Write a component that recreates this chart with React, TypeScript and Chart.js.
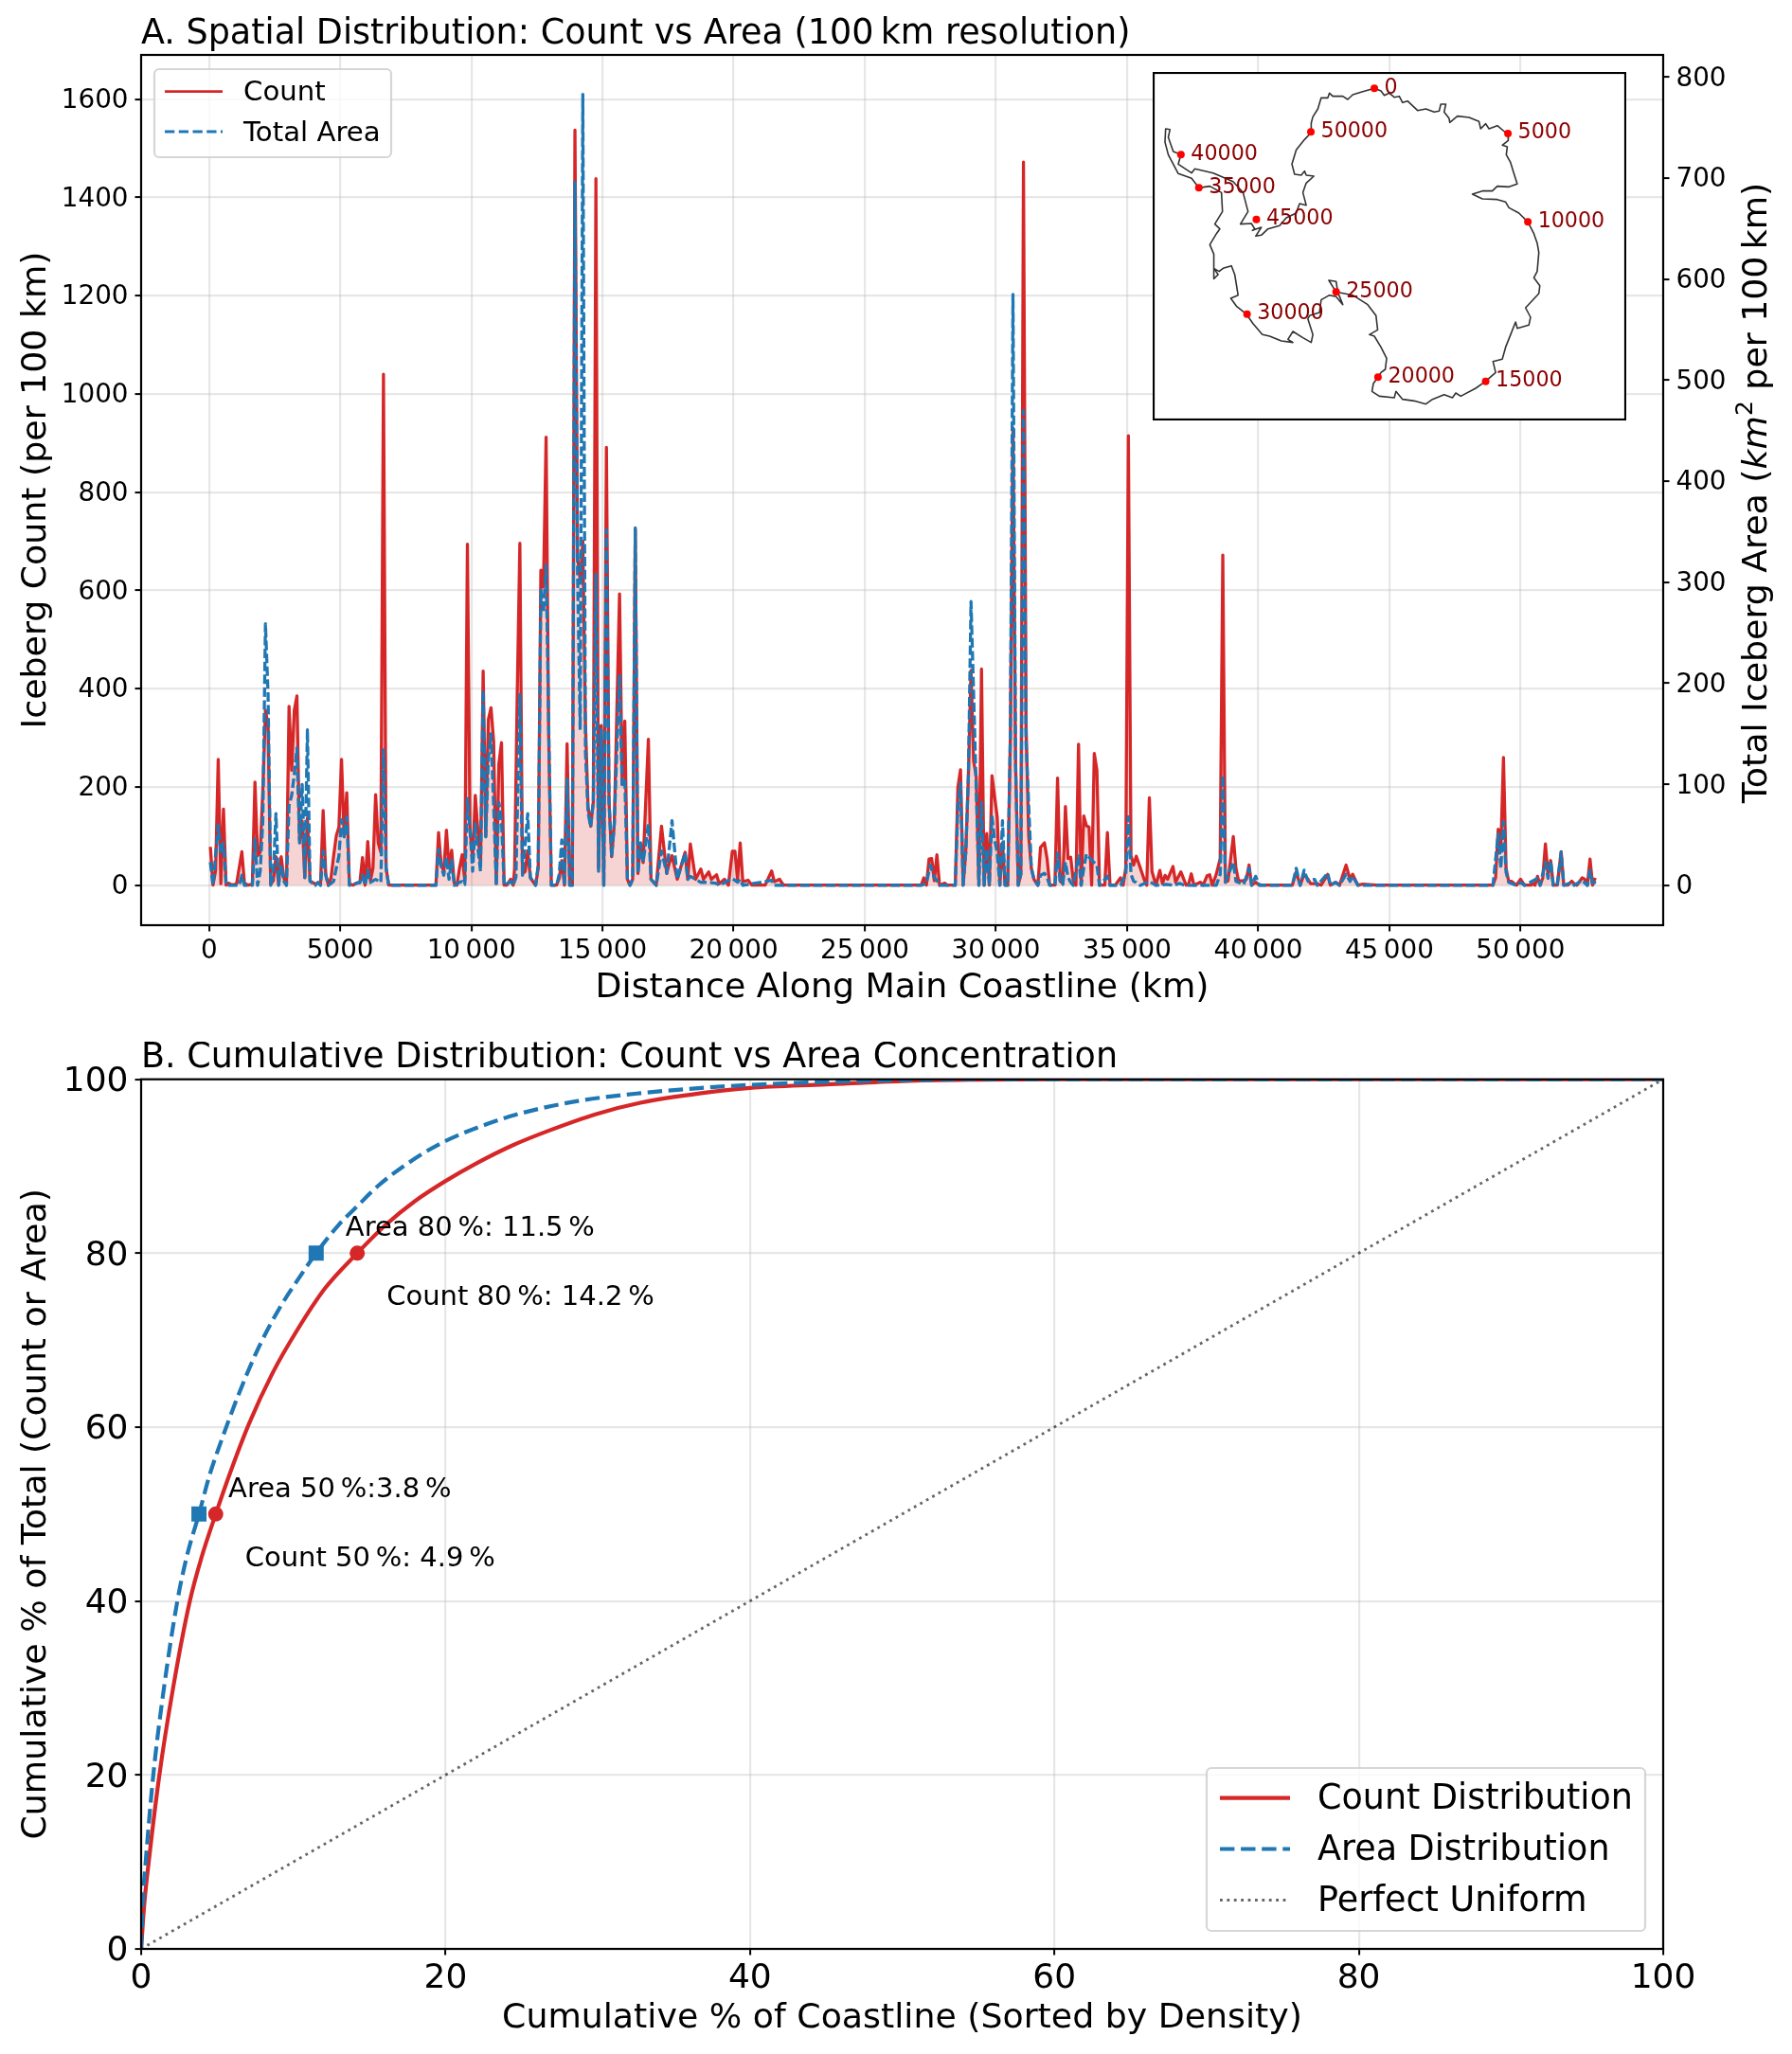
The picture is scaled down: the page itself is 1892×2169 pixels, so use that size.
import React, { useEffect, useRef } from "react";
import { Chart, registerables } from "chart.js";

Chart.register(...registerables);

const FONT = "'DejaVu Sans'";
const RED = "#d62728";
const BLUE = "#1f77b4";
const GRID = "rgba(176,176,176,0.3)";
const THIN = "\u2009";

// Panel A: [distance along coastline km, iceberg count per 100 km]
const countSeries = [
  [50,78],[150,0],[250,30],[350,256],[450,3],[550,155],[650,0],[750,4],[850,1],[950,1],[1050,3],[1250,68],[1350,4],[1500,0],[1650,2],[1750,210],[1850,60],[1950,67],[2050,195],[2150,356],[2250,325],[2350,2],[2450,9],[2550,58],[2650,2],[2750,58],[2850,15],[2950,0],[3050,364],[3150,234],[3250,356],[3350,385],[3450,92],[3550,131],[3650,15],[3750,137],[3850,9],[4050,2],[4150,5],[4250,2],[4350,152],[4450,22],[4550,0],[4650,15],[4750,60],[4850,100],[4950,118],[5050,256],[5150,99],[5250,188],[5350,2],[5500,0],[5650,5],[5750,5],[5850,56],[5950,0],[6050,89],[6150,9],[6250,35],[6350,184],[6450,86],[6550,67],[6650,1040],[6750,35],[6850,0],
  [8650,0],[8750,107],[8850,41],[8950,28],[9050,112],[9150,35],[9250,71],[9350,3],[9450,0],[9550,35],[9650,62],[9750,9],[9850,694],[9950,112],[10050,54],[10150,183],[10250,110],[10350,40],[10450,436],[10550,100],[10650,337],[10750,361],[10850,292],[10950,3],[11050,247],[11150,290],[11250,0],[11350,0],[11500,12],[11600,0],[11650,35],[11750,390],[11850,696],[11950,23],[12050,28],[12150,70],[12250,15],[12450,0],[12550,35],[12650,641],[12750,607],[12850,912],[12950,300],[13050,0],[13250,0],[13350,14],[13450,50],[13550,0],[13650,288],[13750,0],[13850,0],[13950,1537],[14050,668],[14150,620],[14250,700],[14350,330],[14450,160],[14550,120],[14650,170],[14750,1438],[14850,35],[14950,325],[15050,0],[15150,891],[15250,170],[15350,58],[15450,125],[15650,593],[15750,205],[15850,334],[15950,12],[16050,0],[16150,12],[16250,724],[16350,24],[16450,86],[16550,46],[16750,297],[16850,12],[17050,0],[17250,120],[17450,24],[17550,46],[17650,60],[17850,12],[18150,67],[18250,12],[18350,84],[18550,12],[18750,33],[18850,12],[19050,27],[19150,12],[19350,21],[19450,3],[19650,12],[19800,0],[19950,69],[20050,69],[20150,12],[20250,86],[20350,7],[20550,10],[20700,0],[21200,0],[21450,29],[21550,7],[21750,12],[21900,0],
  [27150,0],[27250,15],[27350,0],[27450,53],[27550,54],[27650,9],[27750,62],[27850,0],[28050,4],[28150,0],[28450,0],[28550,199],[28650,235],[28750,0],[28850,67],[28950,221],[29050,437],[29150,253],[29250,221],[29350,0],[29450,440],[29550,0],[29650,105],[29750,0],[29850,223],[30050,138],[30150,0],[30250,86],[30350,0],[30450,0],[30550,300],[30650,930],[30750,250],[30850,0],[30950,22],[31050,1472],[31150,325],[31250,100],[31350,35],[31450,12],[31600,0],[31700,77],[31850,86],[31950,54],[32050,0],[32250,0],[32350,218],[32450,9],[32550,3],[32650,160],[32750,54],[32850,57],[32950,9],[33050,0],[33150,287],[33250,0],[33350,141],[33450,121],[33550,118],[33650,0],[33750,268],[33850,234],[33950,0],[34150,0],[34250,107],[34350,0],[34550,0],[34750,15],[34850,0],[34950,35],[35050,915],[35150,60],[35250,41],[35350,59],[35550,28],[35650,12],[35750,0],[35850,178],[35950,28],[36100,0],[36250,30],[36350,3],[36450,20],[36550,12],[36750,38],[36850,6],[37050,27],[37250,0],[37350,3],[37450,23],[37550,0],[37800,6],[37900,0],[38050,19],[38150,21],[38250,0],[38400,22],[38550,54],[38650,672],[38750,6],[38850,9],[39050,99],[39150,35],[39250,9],[39450,9],[39550,12],[39650,41],[39750,0],[39900,6],[40050,0],
  [41300,0],[41350,9],[41450,27],[41600,0],[41750,22],[41900,12],[42000,3],[42250,3],[42400,0],[42650,22],[42750,0],[42950,6],[43100,0],[43350,41],[43500,12],[43600,22],[43800,0],[44000,2],[44500,0],[48950,0],[49050,15],[49150,114],[49250,73],[49350,260],[49450,34],[49550,8],[49650,8],[49850,0],[50000,12],[50150,0],[50400,0],[50500,3],[50550,0],[50650,18],[50750,0],[50850,15],[50950,84],[51050,21],[51150,50],[51250,0],[51400,0],[51550,68],[51650,0],[51800,0],[51950,8],[52050,3],[52150,0],[52350,15],[52450,12],[52550,0],[52650,53],[52750,0],[52850,15],
];

// Panel A: [distance along coastline km, total iceberg area km2 per 100 km]
const areaSeries = [
  [50,23],[150,0],[350,60],[450,32],[550,42],[650,0],[1150,0],[1250,10],[1350,0],[1650,0],[1750,46],[1850,0],[1950,14],[2050,64],[2150,259],[2250,189],[2350,0],[2450,11],[2550,71],[2650,0],[2750,20],[2850,4],[2950,0],[3050,79],[3150,89],[3250,110],[3350,136],[3450,42],[3550,100],[3650,8],[3750,154],[3850,4],[4050,0],[4150,3],[4250,0],[4350,34],[4450,10],[4550,0],[4750,4],[4850,17],[4950,29],[5050,65],[5150,48],[5250,68],[5350,0],[5750,3],[5850,10],[5950,0],[6050,15],[6150,3],[6350,6],[6550,3],[6650,134],[6750,17],[6850,0],
  [8650,0],[8750,36],[8850,18],[8950,10],[9050,28],[9150,6],[9250,25],[9350,0],[9550,3],[9650,4],[9750,1],[9850,86],[9950,54],[10050,14],[10150,61],[10250,36],[10350,14],[10450,193],[10550,48],[10650,126],[10750,150],[10850,79],[10950,0],[11050,82],[11150,64],[11250,0],[11500,4],[11600,0],[11700,8],[11850,189],[11950,10],[12150,71],[12250,8],[12450,0],[12550,20],[12650,292],[12750,270],[12850,317],[13050,0],[13250,0],[13350,11],[13450,45],[13550,0],[13650,105],[13750,0],[13850,0],[13950,696],[14050,308],[14150,154],[14250,783],[14350,132],[14450,72],[14550,58],[14650,83],[14750,308],[14850,14],[14950,154],[15050,0],[15150,352],[15250,83],[15350,28],[15450,61],[15650,209],[15750,100],[15850,105],[15950,6],[16050,0],[16150,6],[16250,354],[16350,12],[16450,42],[16550,23],[16750,61],[16850,6],[17050,0],[17250,34],[17450,12],[17650,64],[17850,6],[18150,32],[18250,6],[18350,9],[18550,6],[18750,3],[19050,3],[19350,2],[19450,0],[19950,7],[20150,3],[20250,6],[20350,0],[21450,5],[21550,0],
  [27150,0],[27350,2],[27500,20],[27650,8],[27750,5],[27850,0],[28450,0],[28550,79],[28650,101],[28750,0],[28850,32],[28950,108],[29050,281],[29150,189],[29250,95],[29350,0],[29450,82],[29550,0],[29650,36],[29750,0],[29850,68],[29950,45],[30050,32],[30150,0],[30250,64],[30350,0],[30450,0],[30550,150],[30650,585],[30750,120],[30850,0],[30950,11],[31050,470],[31150,142],[31350,17],[31450,6],[31600,0],[31700,10],[31850,12],[31950,8],[32050,0],[32250,0],[32350,32],[32450,4],[32550,1],[32650,23],[32750,8],[32850,3],[32950,0],[33150,29],[33250,0],[33350,17],[33450,31],[33650,25],[33850,20],[33950,0],[34250,9],[34350,0],[34750,0],[34950,11],[35050,68],[35150,11],[35250,4],[35350,3],[35500,0],[35850,4],[36100,0],[36500,1],[36800,0],[37000,2],[37200,0],[38400,0],[38550,11],[38650,109],[38750,3],[39050,23],[39150,4],[39450,1],[39650,17],[39750,0],[39900,9],[40050,0],
  [41300,0],[41450,17],[41600,0],[41750,15],[41900,4],[42150,6],[42250,0],[42650,12],[42750,0],[42950,3],[43100,0],[43350,11],[43500,4],[43600,9],[43800,0],[48950,0],[49150,51],[49250,17],[49350,63],[49450,13],[49550,3],[49850,0],[50000,3],[50150,0],[50650,7],[50750,0],[50950,23],[51050,7],[51150,24],[51250,0],[51400,0],[51550,33],[51650,0],[51950,3],[52050,0],[52350,5],[52550,0],[52650,15],[52750,0],[52850,4],
];

const xTicksA = [0,5000,10000,15000,20000,25000,30000,35000,40000,45000,50000];
const xTickLabelsA = ["0","5000",`10${THIN}000`,`15${THIN}000`,`20${THIN}000`,`25${THIN}000`,`30${THIN}000`,`35${THIN}000`,`40${THIN}000`,`45${THIN}000`,`50${THIN}000`];
const yTicksCount = [0,200,400,600,800,1000,1200,1400,1600];
const yTicksArea = [0,100,200,300,400,500,600,700,800];

// Panel B: [cumulative % coastline, cumulative % total]
const countCumulative = [[0,0],[0.2,5],[0.5,10],[1.2,20],[2.1,30],[3.2,40],[4,45.2],[4.9,50],[5.9,55],[7.09,60.4],[8.63,66.2],[10.2,71],[12.1,76],[14.2,80],[16.1,83.3],[18,86],[20,88.3],[22.1,90.4],[24.4,92.4],[26.8,94.1],[29.9,96],[32.8,97.3],[36.8,98.4],[40,99],[45,99.4],[50,99.8],[55,99.95],[60,100],[100,100]];
const areaCumulative = [[0,0],[0.1,5],[0.3,10],[0.8,20],[1.5,30],[2.38,40],[3.04,45.4],[3.8,50],[4.5,54.5],[5.18,58],[6.37,63.6],[7.68,69],[9,73.4],[10.2,76.7],[11.5,80],[13,83.3],[14.2,85.4],[15.6,87.8],[18,90.9],[20,92.9],[22.8,94.9],[25.2,96.2],[28.7,97.5],[32.8,98.4],[36.8,99],[40,99.35],[45,99.7],[50,99.9],[55,100],[100,100]];
const uniformLine = [[0,0],[100,100]];
const countThresholds = [[4.9,50],[14.2,80]];
const areaThresholds = [[3.8,50],[11.5,80]];
const countThresholdLabels = [`Count 50${THIN}%: 4.9${THIN}%`,`Count 80${THIN}%: 14.2${THIN}%`];
const areaThresholdLabels = [`Area 50${THIN}%:3.8${THIN}%`,`Area 80${THIN}%: 11.5${THIN}%`];
const ticksB = [0,20,40,60,80,100];

// Inset: coastline outline in map units
const coastline = [
  [715,100],[735,108],[745,122],[760,115],[775,128],[790,125],[800,145],[815,140],[830,155],[845,170],[870,165],[895,175],[910,172],[915,150],[930,150],[925,175],[940,195],[942,208],[965,188],[1000,192],[1030,205],[1035,228],[1050,212],[1060,228],[1085,218],[1110,240],[1117,243],[1118,265],[1100,280],[1115,285],[1112,310],[1125,335],[1135,370],[1145,403],[1120,412],[1085,410],[1070,425],[1040,425],[1010,435],[1040,450],[1085,452],[1110,460],[1120,478],[1150,495],[1177,523],[1195,560],[1205,590],[1210,620],[1205,680],[1195,700],[1213,725],[1210,750],[1170,795],[1185,825],[1180,850],[1145,860],[1140,840],[1125,880],[1110,920],[1100,958],[1072,965],[1080,1000],[1050,1028],[1020,1050],[975,1075],[960,1065],[950,1080],[925,1070],[890,1085],[870,1100],[835,1090],[800,1085],[780,1060],[775,1080],[730,1075],[708,1060],[712,1035],[726,1015],[735,1000],[748,990],[752,955],[735,920],[715,885],[700,880],[725,865],[720,820],[695,785],[650,755],[600,745],[578,708],[600,712],[605,745],[620,785],[600,760],[580,755],[555,770],[550,810],[520,820],[515,830],[530,880],[525,905],[500,890],[470,870],[455,895],[470,905],[435,900],[400,885],[378,880],[350,845],[330,815],[300,790],[283,765],[305,755],[295,690],[285,662],[260,670],[248,680],[232,670],[245,690],[232,703],[232,625],[220,595],[240,560],[250,545],[235,530],[258,490],[255,430],[220,410],[187,415],[165,385],[125,370],[95,310],[85,270],[87,228],[100,230],[95,255],[110,300],[133,310],[125,340],[165,368],[175,355],[230,368],[290,395],[320,430],[335,490],[312,530],[345,528],[355,545],[348,550],[375,540],[358,568],[375,565],[395,545],[430,535],[450,510],[480,495],[490,465],[510,470],[500,430],[510,400],[533,378],[510,375],[505,362],[495,375],[475,372],[467,340],[480,295],[505,262],[525,240],[525,210],[530,190],[545,165],[555,130],[575,130],[580,115],[590,125],[620,125],[635,135],[650,120],[680,110],[715,100],
];
const markerLabels = ["0","5000","10000","15000","20000","25000","30000","35000","40000","45000","50000"];
const markerPositions = [[715,100],[1117,243],[1177,523],[1050,1028],[726,1015],[600,745],[332,815],[187,415],[133,310],[360,515],[524,238]];

const toXY = (list: number[][]) => list.map(([x, y]) => ({ x, y }));
const setTicks = (values: number[]) => (scale: any) => { scale.ticks = values.map((value) => ({ value })); };
const fix = (key: string, size: number) => (scale: any) => { scale[key] = size; };
const plainNumber = (v: number) => String(v);

function drawSpines(ctx: any, area: any) {
  ctx.save();
  ctx.strokeStyle = "#000";
  ctx.lineWidth = 2.2;
  ctx.strokeRect(area.left, area.top, area.right - area.left, area.bottom - area.top);
  ctx.restore();
}

function drawLegend(ctx: any, box: any, fontPx: number, items: any[]) {
  ctx.save();
  ctx.beginPath();
  ctx.roundRect(box.x, box.y, box.w, box.h, 5);
  ctx.fillStyle = "rgba(255,255,255,0.8)";
  ctx.fill();
  ctx.strokeStyle = "rgba(204,204,204,0.8)";
  ctx.lineWidth = 2.2;
  ctx.stroke();
  ctx.font = `${fontPx}px ${FONT}`;
  ctx.textBaseline = "middle";
  ctx.textAlign = "left";
  items.forEach((it) => {
    ctx.beginPath();
    ctx.strokeStyle = it.color;
    ctx.lineWidth = it.width;
    ctx.setLineDash(it.dash || []);
    ctx.moveTo(box.lineX, it.y);
    ctx.lineTo(box.lineX + box.lineLen, it.y);
    ctx.stroke();
    ctx.setLineDash([]);
    ctx.fillStyle = "#000";
    ctx.fillText(it.label, box.textX, it.y + 2);
  });
  ctx.restore();
}

const panelAOverlay = {
  id: "panelAOverlay",
  afterDatasetsDraw(chart: any) {
    const { ctx, chartArea } = chart;
    drawSpines(ctx, chartArea);
    ctx.save();
    ctx.fillStyle = "#000";
    ctx.font = `36.5px ${FONT}`;
    ctx.textBaseline = "alphabetic";
    ctx.textAlign = "left";
    ctx.fillText(`A. Spatial Distribution: Count vs Area (100${THIN}km resolution)`, chartArea.left, 46);
    ctx.restore();

    // right-hand axis label with mathtext style km^2
    ctx.save();
    ctx.translate(1865, (chartArea.top + chartArea.bottom) / 2 + 3);
    ctx.rotate(-Math.PI / 2);
    ctx.fillStyle = "#000";
    ctx.textBaseline = "alphabetic";
    ctx.textAlign = "left";
    const parts = [
      { t: "Total Iceberg Area (", f: `36.3px ${FONT}`, dy: 0 },
      { t: "km", f: `italic 36.3px ${FONT}`, dy: 0 },
      { t: "2", f: `25px ${FONT}`, dy: -15 },
      { t: ` per 100${THIN}km)`, f: `36.3px ${FONT}`, dy: 0 },
    ];
    let total = 0;
    parts.forEach((p) => { ctx.font = p.f; total += ctx.measureText(p.t).width; });
    let x = -total / 2;
    parts.forEach((p) => {
      ctx.font = p.f;
      ctx.fillText(p.t, x, p.dy);
      x += ctx.measureText(p.t).width;
    });
    ctx.restore();

    drawLegend(ctx, { x: 163, y: 73, w: 250, h: 93, lineX: 174, lineLen: 61, textX: 257 }, 29.2, [
      { label: chart.data.datasets[0].label, color: RED, width: 2.8, y: 96.7 },
      { label: chart.data.datasets[1].label, color: BLUE, width: 2.8, dash: [10.3, 4.45], y: 139 },
    ]);
  },
};

const panelBOverlay = {
  id: "panelBOverlay",
  afterDatasetsDraw(chart: any) {
    const { ctx, chartArea, scales } = chart;
    drawSpines(ctx, chartArea);
    ctx.save();
    ctx.fillStyle = "#000";
    ctx.textBaseline = "alphabetic";
    ctx.textAlign = "left";
    ctx.font = `36.5px ${FONT}`;
    ctx.fillText("B. Cumulative Distribution: Count vs Area Concentration", chartArea.left, 27);
    ctx.font = `29px ${FONT}`;
    areaThresholds.forEach(([x, y], i) => {
      ctx.fillText(areaThresholdLabels[i], scales.x.getPixelForValue(x) + 31, scales.y.getPixelForValue(y) - 18);
    });
    countThresholds.forEach(([x, y], i) => {
      ctx.fillText(countThresholdLabels[i], scales.x.getPixelForValue(x) + 31, scales.y.getPixelForValue(y) + 55);
    });
    ctx.restore();
    drawLegend(ctx, { x: 1274, y: 767, w: 463, h: 172, lineX: 1288, lineLen: 74, textX: 1391 }, 36.5, [
      { label: "Count Distribution", color: RED, width: 4.2, y: 798.6 },
      { label: "Area Distribution", color: BLUE, width: 4.2, dash: [15.4, 6.7], y: 852.5 },
      { label: "Perfect Uniform", color: "rgba(0,0,0,0.6)", width: 2.8, dash: [2.8, 4.6], y: 906.5 },
    ]);
  },
};

const insetOverlay = {
  id: "insetOverlay",
  beforeDatasetsDraw(chart: any) {
    const { ctx, width, height } = chart;
    ctx.save();
    ctx.fillStyle = "#fff";
    ctx.fillRect(0, 0, width, height);
    ctx.restore();
  },
  afterDatasetsDraw(chart: any) {
    const { ctx, scales, width, height } = chart;
    ctx.save();
    ctx.fillStyle = "#8b0000";
    ctx.font = `22.2px ${FONT}`;
    ctx.textBaseline = "middle";
    ctx.textAlign = "left";
    markerPositions.forEach(([x, y], i) => {
      ctx.fillText(markerLabels[i], scales.x.getPixelForValue(x) + 10.5, scales.y.getPixelForValue(y) - 0.5);
    });
    ctx.strokeStyle = "#000";
    ctx.lineWidth = 2.2;
    ctx.strokeRect(1, 1, width - 2, height - 2);
    ctx.restore();
  },
};

const tickFont = (size: number) => ({ family: FONT, size, lineHeight: 1 });

function axisBase(fontSize: number, labelOffset: number) {
  return {
    border: { display: false },
    grid: { color: GRID, lineWidth: 2.2, tickColor: "#000", tickLength: 6.5, tickWidth: 2 },
    ticks: { font: tickFont(fontSize), color: "#000", padding: 7, autoSkip: false, maxRotation: 0, minRotation: 0, labelOffset },
  };
}

export default function App() {
  const refA = useRef<HTMLCanvasElement>(null);
  const refB = useRef<HTMLCanvasElement>(null);
  const refC = useRef<HTMLCanvasElement>(null);

  useEffect(() => {
    const common = { responsive: false, animation: false, devicePixelRatio: 1 };
    const a = new Chart(refA.current as any, {
      type: "line",
      plugins: [panelAOverlay],
      data: {
        datasets: [
          { label: "Count", data: toXY(countSeries), borderColor: RED, borderWidth: 3.3, borderJoinStyle: "round", backgroundColor: "rgba(214,39,40,0.2)", fill: "origin", pointRadius: 0, tension: 0, yAxisID: "y", order: 2 },
          { label: "Total Area", data: toXY(areaSeries), borderColor: BLUE, borderWidth: 3.3, borderJoinStyle: "round", borderDash: [10, 3.6], fill: false, pointRadius: 0, tension: 0, yAxisID: "y1", order: 1 },
        ],
      },
      options: {
        ...common,
        layout: { autoPadding: false, padding: { top: 58, left: 0, right: 0, bottom: 0 } },
        plugins: { legend: { display: false }, tooltip: { enabled: false }, title: { display: false } },
        scales: {
          x: {
            type: "linear", min: -2590, max: 55440, ...axisBase(27.8, 0),
            afterBuildTicks: setTicks(xTicksA),
            afterFit: fix("height", 123),
            ticks: { ...axisBase(27.8, 0).ticks, callback: (v: number) => xTickLabelsA[xTicksA.indexOf(v)] ?? "" },
            title: { display: true, text: "Distance Along Main Coastline (km)", color: "#000", font: tickFont(36.3), padding: { top: 0, bottom: 38.5 } },
          },
          y: {
            type: "linear", position: "left", min: -81.5, max: 1690, ...axisBase(27.8, 2),
            ticks: { ...axisBase(27.8, 2).ticks, callback: plainNumber },
            afterBuildTicks: setTicks(yTicksCount),
            afterFit: fix("width", 149),
            title: { display: true, text: "Iceberg Count (per 100 km)", color: "#000", font: tickFont(36.3), padding: { top: 20.3, bottom: 20.3 } },
          },
          y1: {
            type: "linear", position: "right", min: -39.4, max: 822, ...axisBase(27.8, 2),
            ticks: { ...axisBase(27.8, 2).ticks, callback: plainNumber },
            grid: { ...axisBase(27.8, 2).grid, drawOnChartArea: false },
            afterBuildTicks: setTicks(yTicksArea),
            afterFit: fix("width", 136),
          },
        },
      },
    } as any);

    const b = new Chart(refB.current as any, {
      type: "line",
      plugins: [panelBOverlay],
      data: {
        datasets: [
          { label: "Count 50/80 %", data: toXY(countThresholds), showLine: false, pointStyle: "circle", pointRadius: 8, backgroundColor: RED, borderColor: RED, borderWidth: 0, order: 1 },
          { label: "Area 50/80 %", data: toXY(areaThresholds), showLine: false, pointStyle: "rect", pointRadius: 11.3, backgroundColor: BLUE, borderColor: BLUE, borderWidth: 0, order: 1 },
          { label: "Count Distribution", data: toXY(countCumulative), borderColor: RED, borderWidth: 4.2, pointRadius: 0, cubicInterpolationMode: "monotone", fill: false, order: 3 },
          { label: "Area Distribution", data: toXY(areaCumulative), borderColor: BLUE, borderWidth: 4.2, borderDash: [15.4, 6.7], pointRadius: 0, cubicInterpolationMode: "monotone", fill: false, order: 2 },
          { label: "Perfect Uniform", data: toXY(uniformLine), borderColor: "rgba(0,0,0,0.6)", borderWidth: 2.8, borderDash: [2.8, 4.6], pointRadius: 0, tension: 0, fill: false, order: 4 },
        ],
      },
      options: {
        ...common,
        layout: { autoPadding: false, padding: { top: 39.7, left: 0, right: 0, bottom: 0 } },
        plugins: { legend: { display: false }, tooltip: { enabled: false }, title: { display: false } },
        scales: {
          x: {
            type: "linear", min: 0, max: 100, ...axisBase(36, 0),
            afterBuildTicks: setTicks(ticksB),
            afterFit: fix("height", 111),
            title: { display: true, text: "Cumulative % of Coastline (Sorted by Density)", color: "#000", font: tickFont(36.3), padding: { top: 0, bottom: 19 } },
          },
          y: {
            type: "linear", min: 0, max: 100, ...axisBase(36, 3),
            afterBuildTicks: setTicks(ticksB),
            afterFit: fix("width", 149),
            title: { display: true, text: "Cumulative % of Total (Count or Area)", color: "#000", font: tickFont(36.3), padding: { top: 20.3, bottom: 20.3 } },
          },
          yRight: {
            type: "linear", position: "right", display: true, min: 0, max: 100,
            border: { display: false },
            grid: { display: false },
            ticks: { display: false },
            afterFit: fix("width", 136),
          },
        },
      },
    } as any);

    const c = new Chart(refC.current as any, {
      type: "line",
      plugins: [insetOverlay],
      data: {
        datasets: [
          { label: "Coastline", data: toXY(coastline), borderColor: "#333", borderWidth: 1.6, borderJoinStyle: "round", pointRadius: 0, tension: 0, fill: false, order: 2 },
          { label: "Distance markers", data: toXY(markerPositions), showLine: false, pointRadius: 4, backgroundColor: "#ff0000", borderWidth: 0, order: 1 },
        ],
      },
      options: {
        ...common,
        layout: { autoPadding: false, padding: 0 },
        plugins: { legend: { display: false }, tooltip: { enabled: false }, title: { display: false } },
        scales: {
          x: { type: "linear", display: false, min: 48, max: 1473 },
          y: { type: "linear", display: false, min: 48, max: 1152, reverse: true },
        },
      },
    } as any);

    return () => { a.destroy(); b.destroy(); c.destroy(); };
  }, []);

  const place = (left: number, top: number): React.CSSProperties => ({ position: "absolute", left, top, display: "block" });

  return (
    <div style={{ position: "fixed", left: 0, top: 0, width: 1892, height: 2169, background: "#fff", overflow: "hidden" }}>
      <canvas ref={refA} width={1892} height={1100} style={place(0, 0)} />
      <canvas ref={refB} width={1892} height={1069} style={place(0, 1100)} />
      <canvas ref={refC} width={500} height={368} style={place(1217, 76)} />
    </div>
  );
}
